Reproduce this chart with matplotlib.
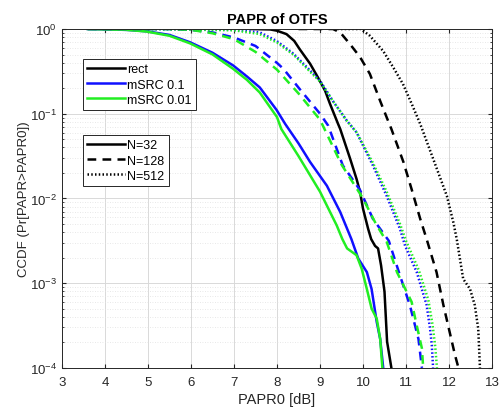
import numpy as np
import matplotlib
matplotlib.use('Agg')
import matplotlib.pyplot as plt
from matplotlib.lines import Line2D

plt.rcParams['font.family'] = ['Liberation Sans', 'DejaVu Sans']

# PAPR0 [dB] vs log10(CCDF)
rect32_x = [7.4, 7.84, 8.0, 8.22, 8.4, 8.53, 8.77, 8.95, 9.12, 9.23, 9.42, 9.47, 9.7, 9.85, 9.93, 10.0, 10.12, 10.19, 10.28, 10.35, 10.42, 10.5, 10.56, 10.66]
rect32_y = [0.0, -0.005, -0.02, -0.06, -0.14, -0.24, -0.41, -0.57, -0.73, -0.88, -1.12, -1.18, -1.53, -1.77, -1.92, -2.12, -2.36, -2.48, -2.56, -2.59, -2.79, -3.1, -3.69, -4.0]

src1_32_x = [3.6, 4.5, 4.97, 5.5, 5.98, 6.5, 6.98, 7.3, 7.6, 7.99, 8.19, 8.5, 8.77, 9.16, 9.47, 9.73, 9.89, 10.09, 10.2, 10.32, 10.4, 10.47]
src1_32_y = [0.0, -0.01, -0.027, -0.07, -0.157, -0.28, -0.43, -0.56, -0.69, -0.955, -1.12, -1.35, -1.57, -1.85, -2.16, -2.48, -2.71, -2.87, -3.07, -3.46, -3.66, -4.0]

src01_32_x = [3.6, 4.5, 4.97, 5.5, 5.98, 6.5, 6.98, 7.3, 7.6, 8.0, 8.1, 8.5, 9.0, 9.39, 9.52, 9.63, 9.85, 9.97, 10.09, 10.2, 10.32, 10.4, 10.45]
src01_32_y = [0.0, -0.01, -0.03, -0.08, -0.17, -0.3, -0.47, -0.6, -0.75, -1.04, -1.18, -1.5, -1.92, -2.32, -2.48, -2.59, -2.67, -2.83, -3.07, -3.3, -3.42, -3.66, -4.0]

rect128_x = [8.5, 9.3, 9.47, 9.7, 9.93, 10.16, 10.4, 10.58, 10.66, 10.94, 11.13, 11.33, 11.48, 11.71, 11.87, 11.98, 12.14, 12.22]
rect128_y = [0.0, 0.0, -0.04, -0.18, -0.33, -0.53, -0.85, -1.08, -1.18, -1.57, -1.89, -2.24, -2.48, -2.87, -3.26, -3.5, -3.85, -4.0]

src1_128_x = [3.6, 5.5, 6.0, 6.5, 7.0, 7.5, 8.0, 8.15, 8.53, 9.0, 9.19, 9.53, 9.93, 10.23, 10.6, 10.86, 11.09, 11.29, 11.37]
src1_128_y = [0.0, 0.0, -0.01, -0.04, -0.1, -0.2, -0.4, -0.47, -0.71, -1.0, -1.14, -1.61, -1.9, -2.24, -2.5, -2.91, -3.26, -3.66, -4.0]

src01_128_x = [3.6, 5.5, 6.0, 6.5, 7.0, 7.5, 8.0, 8.5, 9.0, 9.5, 10.0, 10.3, 10.55, 10.79, 11.13, 11.25, 11.37, 11.4]
src01_128_y = [0.0, 0.0, -0.01, -0.05, -0.12, -0.27, -0.48, -0.76, -1.07, -1.6, -2.0, -2.3, -2.51, -2.87, -3.22, -3.5, -3.77, -4.0]

rect512_x = [9.4, 9.95, 10.16, 10.47, 10.7, 10.93, 11.13, 11.33, 11.63, 11.95, 12.1, 12.18, 12.33, 12.49, 12.6, 12.68, 12.72]
rect512_y = [0.0, 0.0, -0.08, -0.26, -0.45, -0.65, -0.88, -1.12, -1.53, -1.97, -2.28, -2.48, -2.95, -3.07, -3.26, -3.54, -4.0]

src1_512_x = [5.0, 7.0, 7.6, 7.99, 8.38, 8.77, 9.0, 9.3, 9.62, 9.85, 10.23, 10.55, 10.86, 10.98, 11.25, 11.48, 11.56, 11.6, 11.63]
src1_512_y = [0.0, -0.01, -0.04, -0.14, -0.29, -0.49, -0.61, -0.85, -1.08, -1.22, -1.61, -1.97, -2.36, -2.56, -2.87, -3.26, -3.54, -3.73, -4.0]

src01_512_x = [5.0, 7.0, 7.6, 8.0, 8.4, 8.8, 9.0, 9.3, 9.62, 9.85, 10.23, 10.55, 10.86, 11.0, 11.3, 11.52, 11.62, 11.68, 11.72]
src01_512_y = [0.0, -0.015, -0.06, -0.16, -0.31, -0.52, -0.62, -0.85, -1.08, -1.22, -1.58, -1.92, -2.3, -2.5, -2.85, -3.2, -3.5, -3.75, -4.0]

black = 'k'
blue = '#1010ff'
green = '#22ee22'
dash = (0, (3.5, 2.5))
dot = (0, (0.6, 0.9))

series = [
    (rect32_x, rect32_y, black, '-'),
    (src1_32_x, src1_32_y, blue, '-'),
    (src01_32_x, src01_32_y, green, '-'),
    (src1_128_x, src1_128_y, blue, dash),
    (src01_128_x, src01_128_y, green, dash),
    (rect128_x, rect128_y, black, dash),
    (src1_512_x, src1_512_y, blue, dot),
    (src01_512_x, src01_512_y, green, dot),
    (rect512_x, rect512_y, black, dot),
]

fig = plt.figure(figsize=(5, 4.14), dpi=100)
ax = fig.add_axes([0.124, 0.109, 0.86, 0.8185])

for x, ly, c, ls in series:
    ax.semilogy(x, 10 ** np.array(ly), color=c, linestyle=ls, linewidth=1.8)

ax.set_xlim(3, 13)
ax.set_ylim(1e-4, 1)
ax.set_xticks(range(3, 14))
ax.grid(True, which='major', color='#d9d9d9', linewidth=0.7)
ax.grid(True, which='minor', axis='y', color='#e0e0e0', linestyle=(0, (1, 2)), linewidth=0.6)
ax.set_axisbelow(True)
ax.tick_params(which='both', direction='in', top=True, right=True, colors='#262626', labelsize=9.5)
ax.tick_params(axis='x', pad=6)
ax.tick_params(which='major', length=3)
ax.tick_params(which='minor', length=1.5)
for s in ax.spines.values():
    s.set_color('#262626')
    s.set_linewidth(0.7)

ax.set_title('PAPR of OTFS', fontsize=10.5, fontweight='bold', pad=4)
ax.set_xlabel('PAPR0 [dB]', fontsize=10.5, color='#262626', labelpad=3)
ax.set_ylabel('CCDF (Pr[PAPR>PAPR0])', fontsize=9.5, color='#262626', labelpad=0)

h1 = [Line2D([], [], color=c, linewidth=1.8) for c in (black, blue, green)]
leg1 = ax.legend(h1, ['rect', 'mSRC 0.1', 'mSRC 0.01'], loc='upper left',
                 bbox_to_anchor=(0.049, 0.9115), borderaxespad=0, fontsize=9,
                 handlelength=3.0, handletextpad=0.2, labelspacing=0.25, borderpad=0.35,
                 fancybox=False, framealpha=1, edgecolor='#262626')
leg1.get_frame().set_linewidth(0.7)
ax.add_artist(leg1)

h2 = [Line2D([], [], color=black, linewidth=1.8, linestyle=ls) for ls in ('-', dash, dot)]
leg2 = ax.legend(h2, ['N=32', 'N=128', 'N=512'], loc='upper left',
                 bbox_to_anchor=(0.049, 0.687), borderaxespad=0, fontsize=9,
                 handlelength=3.0, handletextpad=0.2, labelspacing=0.25, borderpad=0.35,
                 fancybox=False, framealpha=1, edgecolor='#262626')
leg2.get_frame().set_linewidth(0.7)

fig.savefig('out.png', dpi=100)
